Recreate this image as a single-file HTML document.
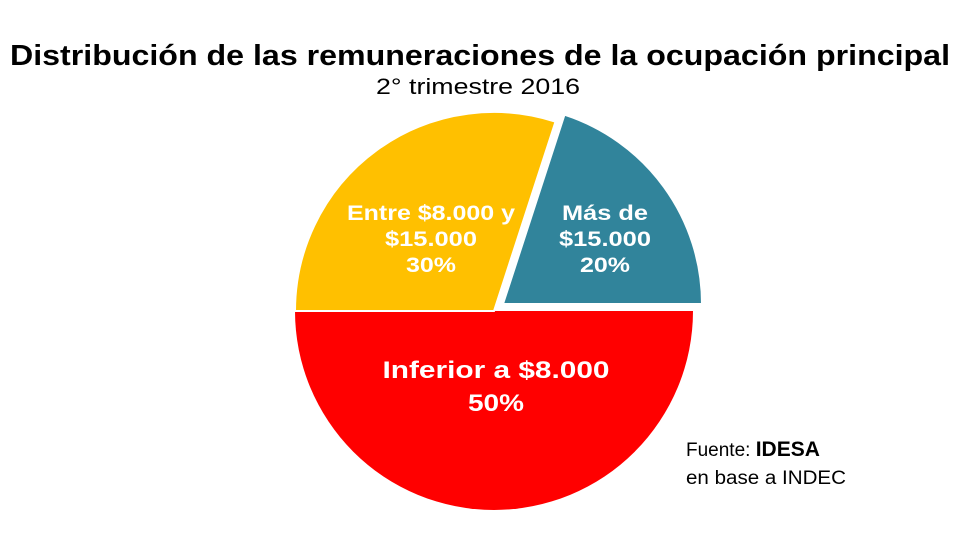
<!DOCTYPE html>
<html><head><meta charset="utf-8"><style>
body{margin:0;background:#fff;}
svg{display:block;}
</style></head><body>
<svg width="960" height="540" viewBox="0 0 960 540" xmlns="http://www.w3.org/2000/svg" font-family="Liberation Sans, sans-serif">
<text x="10" y="65" font-size="29" font-weight="bold" fill="#000" textLength="940" lengthAdjust="spacingAndGlyphs">Distribución de las remuneraciones de la ocupación principal</text>
<text x="376" y="94" font-size="22" fill="#000" textLength="204" lengthAdjust="spacingAndGlyphs">2° trimestre 2016</text>
<path d="M295,311 A199,199 0 0 0 693,311 Z" fill="#FF0000"/>
<path d="M494,311 L555.5,121.7 A199,199 0 0 0 295,311 Z" fill="#FFC000" stroke="#fff" stroke-width="2"/>
<path d="M503,304 L702,304 A199,199 0 0 0 564.5,114.7 Z" fill="#31849B" stroke="#fff" stroke-width="2"/>
<g fill="#fff" font-weight="bold" text-anchor="middle">
<text x="431" y="220" font-size="21" textLength="168" lengthAdjust="spacingAndGlyphs">Entre $8.000 y</text>
<text x="431" y="246" font-size="21" textLength="92" lengthAdjust="spacingAndGlyphs">$15.000</text>
<text x="431" y="272" font-size="21" textLength="50" lengthAdjust="spacingAndGlyphs">30%</text>
<text x="605" y="220" font-size="21" textLength="86" lengthAdjust="spacingAndGlyphs">Más de</text>
<text x="605" y="246" font-size="21" textLength="92" lengthAdjust="spacingAndGlyphs">$15.000</text>
<text x="605" y="272" font-size="21" textLength="50" lengthAdjust="spacingAndGlyphs">20%</text>
<text x="496" y="378" font-size="24" textLength="227" lengthAdjust="spacingAndGlyphs">Inferior a $8.000</text>
<text x="496" y="411" font-size="24" textLength="56" lengthAdjust="spacingAndGlyphs">50%</text>
</g>
<text x="686" y="456" font-size="19" fill="#000">Fuente: <tspan font-weight="bold" font-size="21">IDESA</tspan></text>
<text x="686" y="484" font-size="19" fill="#000" textLength="160" lengthAdjust="spacingAndGlyphs">en base a INDEC</text>
</svg>
</body></html>
